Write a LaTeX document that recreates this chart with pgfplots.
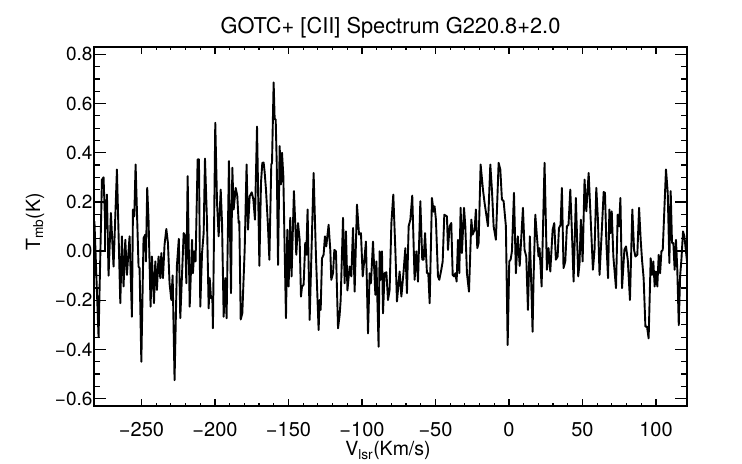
\documentclass[border=0pt]{standalone}
\usepackage{fontspec}
\setmainfont{TeX Gyre Heros}
\usepackage{pgfplots}
\usepackage{pgfplotstable}
\pgfplotsset{compat=1.18}
\pgfplotstableread{
u v
-282.3 -0.13
-282.0 0.12
-279.2 -0.35
-276.9 0.29
-275.8 0.30
-274.6 0.09
-273.5 0.23
-272.4 -0.10
-270.8 0.155
-269.0 -0.063
-266.7 0.332
-264.4 -0.212
-263.3 0.06
-262.2 -0.144
-261.0 0.046
-259.9 -0.097
-258.1 0.06
-256.5 -0.267
-255.8 0.169
-254.9 0.141
-254.0 0.352
-252.0 -0.063
-251.3 -0.069
-250.1 -0.45
-248.6 0.053
-247.4 0.067
-247.0 -0.042
-246.1 0.257
-245.2 0.128
-243.8 -0.226
-242.9 -0.022
-241.5 -0.212
-240.6 -0.042
-239.5 -0.158
-238.4 -0.022
-237.2 -0.11
-236.5 -0.008
-235.4 -0.11
-234.3 0.026
-233.1 0.09
-232.0 0.033
-230.9 -0.131
-229.7 -0.199
-228.8 -0.099
-227.5 -0.525
-225.9 -0.06
-224.6 0.05
-223.6 -0.273
-221.3 0.073
-220.2 0.06
-219.5 -0.131
-218.6 0.305
-217.2 -0.226
-215.6 0.046
-215.0 -0.09
-214.1 -0.001
-213.2 -0.042
-211.8 0.373
-210.9 0.373
-210.0 -0.226
-208.8 -0.008
-207.7 0.073
-206.8 0.376
-205.4 0.114
-204.3 -0.233
-203.6 -0.11
-202.7 -0.192
-201.8 -0.185
-201.4 -0.314
-199.8 0.522
-198.6 0.196
-197.5 0.06
-196.1 0.25
-195.2 0.114
-194.1 -0.267
-193.0 -0.11
-192.1 -0.273
-190.5 0.366
-189.1 -0.171
-188.2 0.339
-187.3 0.169
-185.9 0.257
-184.8 0.223
-183.9 0.114
-183.45 0.121
-182.5 -0.278
-181.4 -0.253
-179.8 0.005
-178.5 0.352
-177.55 0.087
-176.4 0.223
-175.0 0.239
-173.9 0.21
-172.8 0.128
-171.4 0.506
-169.8 -0.06
-168.7 0.278
-167.8 0.359
-166.9 0.36
-166.2 0.32
-165.3 0.25
-163.95 0.101
-163.0 -0.035
-161.7 0.352
-161.2 0.359
-160.1 0.686
-159.4 0.536
-158.7 0.536
-158.0 0.359
-157.1 -0.056
-156.0 0.427
-155.1 0.271
-154.4 0.40
-153.5 0.305
-152.6 0.005
-151.7 -0.273
-150.8 0.087
-149.9 -0.144
-148.8 0.135
-147.9 -0.103
-146.3 0.244
-145.4 0.114
-144.7 -0.015
-143.5 0.114
-142.4 0.046
-141.5 -0.185
-140.8 -0.144
-139.7 -0.137
-138.6 0.033
-137.9 -0.015
-137.0 0.169
-135.6 -0.28
-132.9 0.318
-131.3 -0.022
-129.5 -0.321
-128.8 -0.199
-128.1 -0.239
-127.2 -0.029
-126.1 -0.015
-125.2 0.06
-124.3 0.019
-122.7 0.107
-121.5 -0.001
-120.9 -0.117
-119.7 -0.09
-118.8 0.005
-117.7 -0.001
-116.3 -0.314
-115.2 -0.26
-114.5 -0.199
-112.9 0.135
-111.8 -0.131
-110.9 0.08
-109.9 -0.16
-108.4 -0.063
-107.25 -0.103
-106.1 0.094
-105.0 -0.165
-103.4 0.189
-102.0 0.067
-100.7 0.073
-99.5 -0.103
-98.4 -0.035
-97.3 0.039
-95.9 -0.335
-94.8 -0.09
-93.9 -0.131
-92.5 0.039
-90.9 -0.178
-90.2 -0.042
-88.7 -0.389
-88.0 -0.001
-87.3 -0.117
-86.4 -0.001
-85.7 -0.253
-84.6 -0.09
-83.4 -0.086
-82.3 -0.199
-81.2 -0.158
-80.0 0.114
-78.7 0.23
-77.3 0.005
-76.2 -0.205
-74.4 -0.083
-73.2 -0.185
-71.7 -0.083
-70.5 0.012
-69.4 -0.171
-68.25 0.101
-67.1 0.128
-65.8 0.226
-64.2 -0.117
-63.0 -0.001
-61.9 -0.124
-60.3 0.203
-59.0 -0.035
-58.05 -0.035
-57.1 0.073
-55.8 -0.09
-54.9 -0.09
-53.96 -0.212
-52.4 0.216
-51.3 0.16
-50.6 0.182
-49.7 0.128
-48.3 -0.103
-47.4 -0.117
-46.05 -0.076
-45.1 -0.042
-44.0 0.148
-42.2 0.141
-41.5 0.005
-40.4 0.101
-39.25 0.114
-38.3 -0.097
-37.4 -0.103
-36.5 -0.09
-35.6 -0.124
-34.7 0.046
-33.8 -0.09
-32.9 0.176
-32.0 -0.008
-30.6 0.176
-29.7 0.101
-28.6 -0.09
-27.2 -0.165
-25.6 0.128
-24.7 0.067
-23.4 0.087
-22.5 0.169
-21.56 0.012
-20.65 0.033
-19.3 0.352
-17.7 0.25
-16.6 0.196
-14.3 0.101
-12.7 0.352
-11.6 0.25
-10.45 0.101
-8.9 0.046
-7.05 0.359
-5.9 0.332
-4.8 0.21
-3.65 0.203
-2.1 0.101
-0.9 -0.382
0.2 -0.042
1.1 -0.035
2.0 -0.001
3.4 0.237
4.7 -0.09
6.0 0.06
7.3 -0.06
9.5 0.176
10.6 0.005
11.75 -0.022
12.9 -0.239
14.2 0.06
15.4 -0.185
16.05 -0.328
16.7 -0.117
17.9 0.148
19.0 0.06
20.1 -0.022
20.8 0.012
22.2 -0.144
24.2 0.359
25.8 -0.076
26.9 0.012
28.1 -0.083
29.7 0.087
30.8 0.114
31.9 -0.035
33.1 -0.022
34.0 0.094
35.1 0.107
36.0 0.257
37.1 -0.069
38.3 -0.042
39.4 0.101
40.5 0.107
41.7 0.25
42.8 0.08
43.95 -0.124
45.5 0.216
47.1 -0.103
48.0 -0.049
48.9 0.128
50.1 -0.042
51.4 0.291
52.6 0.162
54.2 0.318
55.5 0.141
57.1 -0.076
58.2 0.005
59.4 0.257
60.5 0.128
61.6 -0.097
63.2 0.09
64.4 0.24
65.3 0.237
66.25 0.033
67.4 -0.11
68.3 0.169
69.0 0.073
69.9 0.162
71.0 -0.022
72.8 -0.151
73.95 0.148
74.9 0.101
75.8 0.216
76.9 -0.151
78.5 0.005
79.6 0.019
80.8 -0.035
82.3 -0.199
83.9 0.169
85.1 0.005
86.0 -0.022
87.3 -0.015
88.5 0.176
89.6 0.046
90.5 -0.035
91.6 -0.11
92.8 -0.307
93.9 -0.307
95.0 -0.355
96.4 -0.029
97.3 -0.097
98.2 -0.042
99.1 -0.144
100.0 -0.083
100.9 -0.144
101.85 -0.015
102.8 -0.09
103.7 -0.001
104.6 0.005
105.7 0.169
106.8 0.332
108.0 0.237
109.1 -0.049
110.0 0.244
110.9 0.033
111.8 0.033
112.7 -0.076
113.6 0.046
114.5 -0.076
115.5 -0.301
116.4 -0.103
117.3 -0.035
118.4 0.08
119.3 0.06
120.4 -0.001
121.1 -0.042
122.0 -0.05
}\spec
\newcommand{\ticksz}{\fontsize{19bp}{22bp}\selectfont}
\newcommand{\xticksz}{\fontsize{20bp}{23bp}\selectfont}
\newcommand{\labsz}{\fontsize{19.5bp}{23bp}\selectfont}
\newcommand{\titsz}{\fontsize{21.8bp}{25bp}\selectfont}
\begin{document}
\begin{tikzpicture}
\begin{axis}[
  name=main, at={(0,0)}, anchor=south west,
  scale only axis, width=593bp, height=359bp,
  xmin=-282.3, xmax=121.1, ymin=-0.63, ymax=0.83,
  axis line style={line width=1.2bp},
  every tick/.style={black, line width=1.2bp},
  tick align=inside,
  xtick=\empty,
  ytick={-0.6,-0.4,-0.2,0,0.2,0.4,0.6,0.8},
  yticklabels={−0.6,−0.4,−0.2,0.0,0.2,0.4,0.6,0.8},
  minor y tick num=3,
  major tick length=11.7bp, minor tick length=6bp,
  yticklabel style={font=\ticksz, xshift=2bp},
  title={GOTC+ [CII] Spectrum G220.8+2.0},
  title style={font=\titsz, at={([yshift=8bp]axis description cs:0.5,1)}, anchor=base, inner sep=0pt},
  ylabel={T\textsubscript{mb}(K)},
  ylabel style={font=\labsz, at={([xshift=-59bp,yshift=4.5bp]axis description cs:0,0.5)}, anchor=center, inner sep=0pt},
]
\addplot[black, line width=1.9bp, line join=round] table[x=u, y=v] {\spec};
\addplot[black, line width=1.9bp] coordinates {(-283,0.2) (-274.6,0.2) (-274.6,0) (-283,0)};
\end{axis}
\begin{axis}[
  at={(0,0)}, anchor=south west,
  scale only axis, width=593bp, height=359bp,
  xmin=-282.3, xmax=121.1, ymin=-0.63, ymax=0.83,
  axis line style={line width=1.2bp},
  every tick/.style={black, line width=1.2bp},
  tick align=inside,
  ytick=\empty,
  xtick={-250,-200,-150,-100,-50,0,50,100},
  xticklabels={−250,−200,−150,−100,−50,0,50,100},
  minor x tick num=4,
  major tick length=6.7bp, minor tick length=3.3bp,
  xticklabel style={font=\xticksz, yshift=-13bp},
  xlabel={V\textsubscript{lsr}(Km/s)},
  xlabel style={font=\labsz, at={([xshift=-2.5bp,yshift=-35.5bp]axis description cs:0.5,0)}, anchor=north, inner sep=0pt},
]
\end{axis}
\pgfresetboundingbox
\path (-94bp,-58bp) rectangle (648bp,406bp);
\end{tikzpicture}
\end{document}
